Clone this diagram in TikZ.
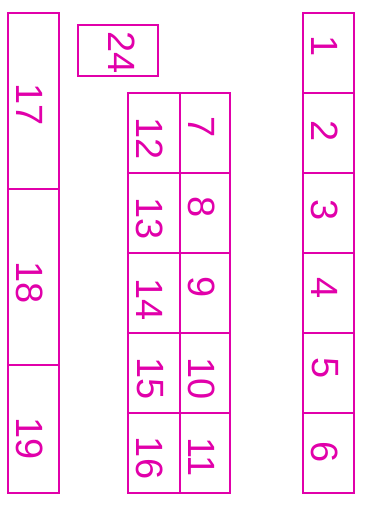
\documentclass[tikz,border=0pt]{standalone}
\usepackage{fontspec}
\setmainfont{Liberation Sans}
\usepackage{xcolor}
\definecolor{fusemag}{RGB}{225,0,170}

\begin{document}
\begin{tikzpicture}[x=1pt, y=-1pt, line width=1.8pt,
    slot/.style={draw=fusemag, inner sep=0pt, outer sep=0pt},
    num/.style={text=fusemag, rotate=-90, inner sep=0pt, font=\fontsize{38}{38}\selectfont}]
  \useasboundingbox (0,0) rectangle (372,509);
  % left strip
  \foreach \n/\cy/\h in {17/101/176, 18/277/176, 19/429/128}
    \node[slot, minimum width=51, minimum height=\h] (s\n) at (33.5,\cy) {};
  % small box on top
  \node[slot, minimum width=80, minimum height=51] (s24) at (118,50.5) {};
  % middle block, two columns
  \foreach \k in {0,...,4} {
    \pgfmathtruncatemacro{\a}{12+\k}
    \pgfmathtruncatemacro{\b}{7+\k}
    \node[slot, minimum width=52, minimum height=80] (s\a) at (154,133+80*\k) {};
    \node[slot, minimum width=50, minimum height=80] (s\b) at (205,133+80*\k) {};
  }
  % right strip
  \foreach \k in {1,...,6}
    \node[slot, minimum width=51, minimum height=80] (s\k) at (328.5,-27+80*\k) {};
  % numbers
  \foreach \t/\x/\y in {24/122/52.5, 17/29.5/105, 18/29.5/283, 19/29.5/439,
      12/150/139, 13/150/219, 14/150/299.5, 15/150/378.7, 16/150/458,
      7/201.5/127.5, 8/202/207.5, 9/202/287, 10/202/378.7, 11/202/457,
      1/325/46, 2/325/131.5, 3/325/210, 4/325/288, 5/325/368.5, 6/325/452}
    \node[num] (n\t) at (\x,\y) {\t};
\end{tikzpicture}
\end{document}
